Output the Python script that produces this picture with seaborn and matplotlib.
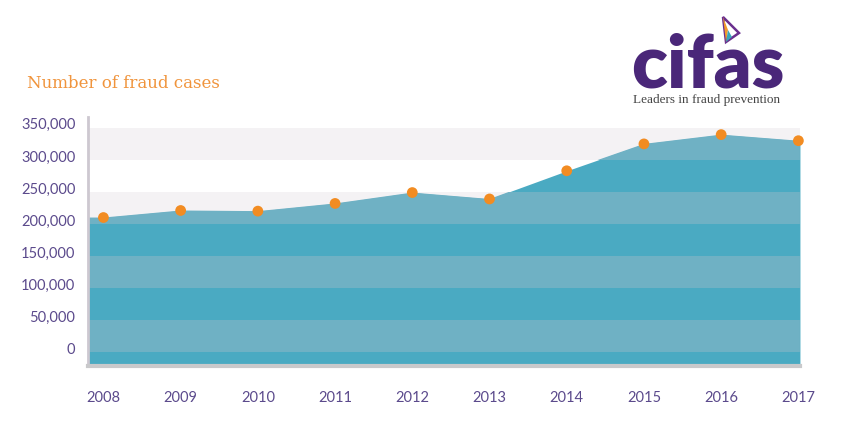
import matplotlib
matplotlib.use("Agg")
import matplotlib.pyplot as plt
import matplotlib.transforms as mtransforms
from matplotlib.patches import Polygon
import seaborn as sns

# Number of fraud cases per year
years = [2008, 2009, 2010, 2011, 2012, 2013, 2014, 2015, 2016, 2017]
cases = [210000, 221000, 220000, 232000, 249000, 239000, 283000, 325000, 339500, 330000]
y_ticks = [0, 50000, 100000, 150000, 200000, 250000, 300000, 350000]
y_labels = ["{:,}".format(v) for v in y_ticks]

TEAL_DARK = "#4aaac2"
TEAL_LIGHT = "#6fb1c4"
GREY_BAND = "#f4f2f4"
ORANGE = "#f28c22"
PURPLE = "#5b4a8c"


def main():
    sns.set_style("white")
    plt.rcParams["font.family"] = ["Lato", "DejaVu Sans"]

    fig = plt.figure(figsize=(8.5, 4.25), dpi=100)
    ax = fig.add_axes([0.1035, 0.1388, 0.8376, 0.5859])

    x0, x1 = 2007.80, 2017.02
    band = 50000
    ylo, yhi = -21875, 367000
    ax.set_xlim(x0, x1)
    ax.set_ylim(ylo, yhi)

    # background stripes
    for k in range(-1, 8):
        if k % 2 == 0:
            ax.axhspan(k * band, (k + 1) * band, color=GREY_BAND, lw=0, zorder=0)

    # area, extended flat to the edges of the plot
    xs = [x0] + years + [x1]
    ys = [cases[0]] + cases + [cases[-1]]
    area = ax.fill_between(xs, ylo, ys, color=TEAL_DARK, lw=0, zorder=1)
    clip = area.get_paths()[0]
    for k in range(-1, 8):
        if k % 2 == 0:
            s = ax.axhspan(k * band, (k + 1) * band, color=TEAL_LIGHT, lw=0, zorder=2)
            s.set_clip_path(clip, ax.transData)

    sns.scatterplot(x=years, y=cases, ax=ax, color=ORANGE, s=60,
                    edgecolor="none", zorder=5, clip_on=False, legend=False)

    ax.set_yticks(y_ticks)
    ax.set_yticklabels(y_labels)
    ax.set_xticks(years)
    ax.set_xticklabels([str(y) for y in years])
    ax.tick_params(axis="y", length=0, pad=9, labelsize=10.5, labelcolor=PURPLE)
    ax.tick_params(axis="x", length=0, pad=18, labelsize=10.5, labelcolor=PURPLE)
    offset = mtransforms.ScaledTranslation(0, 4 / 100, fig.dpi_scale_trans)
    for lab in ax.get_yticklabels():
        lab.set_transform(lab.get_transform() + offset)

    for side in ["top", "right"]:
        ax.spines[side].set_visible(False)
    ax.spines["left"].set_color("#cdc8d0")
    ax.spines["left"].set_linewidth(2)
    ax.spines["bottom"].set_color("#c9c9cb")
    ax.spines["bottom"].set_linewidth(3)
    ax.grid(False)

    fig.text(27 / 850, 1 - 83 / 425, "Number of fraud cases", color="#f0943c",
             fontsize=12, family=["DejaVu Serif"], va="center", ha="left")

    # logo
    fig.text(631 / 850, 1 - 87 / 425, "cifas", color="#4a2779", fontsize=53,
             fontweight="heavy", va="baseline", ha="left")
    fig.text(633 / 850, 1 - 100 / 425, "Leaders in fraud prevention", color="#444444",
             fontsize=9.5, family=["Liberation Serif"], va="center", ha="left")
    tri = [(723 / 850, 1 - 17 / 425), (726 / 850, 1 - 42 / 425), (739 / 850, 1 - 33 / 425)]
    mid = (728 / 850, 1 - 30 / 425)
    fig.patches.append(Polygon(tri, closed=True, transform=fig.transFigure,
                               facecolor="white", edgecolor="#6a2f8e", lw=1.8))
    fig.patches.append(Polygon([tri[0], tri[1], mid], closed=True,
                               transform=fig.transFigure, facecolor="#f39a2b", lw=0))
    fig.patches.append(Polygon([tri[1], mid, (732 / 850, 1 - 37 / 425)], closed=True,
                               transform=fig.transFigure, facecolor="#3aa6b8", lw=0))

    fig.savefig("out.png", dpi=100, facecolor="white")


if __name__ == "__main__":
    main()
